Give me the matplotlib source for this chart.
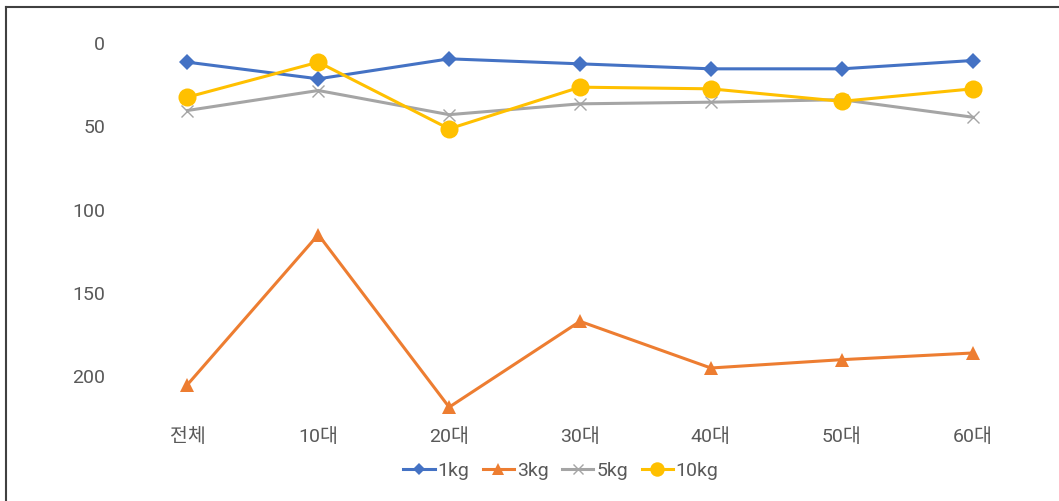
import matplotlib
matplotlib.use("Agg")

import matplotlib.pyplot as plt
from matplotlib.lines import Line2D

# ---- data ----
categories = ["전체", "10대", "20대", "30대", "40대", "50대", "60대"]
series_names = ["1kg", "3kg", "5kg", "10kg"]
kg1 = [11.5, 21.5, 9.5, 12.5, 15.5, 15.5, 10.5]
kg3 = [205, 115, 218.5, 167, 195, 190, 186]
kg5 = [40.5, 28.5, 43, 36.5, 35.5, 34, 44.5]
kg10 = [32.5, 11.5, 51.5, 26.5, 27.5, 35, 27.5]
yticks = [0, 50, 100, 150, 200]

# ---- style ----
plt.rcParams["font.family"] = ["Roboto", "Noto Sans CJK KR", "DejaVu Sans"]
plt.rcParams["axes.unicode_minus"] = False
ink = "#595959"

styles = [
    dict(color="#4472C4", marker="D", ms=8, mew=0),
    dict(color="#ED7D31", marker="^", ms=10, mew=0),
    dict(color="#A5A5A5", marker="x", ms=9, mew=1.0),
    dict(color="#FFC000", marker="o", ms=13, mew=0),
]

fig = plt.figure(figsize=(10.59, 5.01), dpi=100)
ax = fig.add_axes([122 / 1059, 1 - 418 / 501, (1038 - 122) / 1059, (418 - 43) / 501])

x = list(range(len(categories)))
for name, vals, st in zip(series_names, [kg1, kg3, kg5, kg10], styles):
    ax.plot(x, vals, lw=2.2, label=name, solid_joinstyle="round", **st)

ax.set_xlim(-0.5, len(categories) - 0.5)
ax.set_ylim(225, 0)
ax.set_yticks(yticks)
ax.set_xticks(x)
ax.set_xticklabels(categories)
ax.tick_params(axis="both", length=0, labelsize=14, colors=ink)
ax.tick_params(axis="y", pad=12)
ax.tick_params(axis="x", pad=7)
for s in ax.spines.values():
    s.set_visible(False)
for t in ax.get_xticklabels() + ax.get_yticklabels():
    t.set_color(ink)

leg = fig.legend(loc="center", bbox_to_anchor=(561 / 1059, 1 - 471 / 501), ncol=4,
                 frameon=False, fontsize=14, handlelength=1.6, handletextpad=0.15,
                 columnspacing=0.7, markerscale=0.8)
for t in leg.get_texts():
    t.set_color(ink)

# outer chart border (top and left visible)
fig.add_artist(Line2D([5.5 / 1059, 5.5 / 1059], [0, 1 - 7 / 501], transform=fig.transFigure,
                      color="#404040", lw=1.5))
fig.add_artist(Line2D([5.5 / 1059, 1], [1 - 7 / 501, 1 - 7 / 501], transform=fig.transFigure,
                      color="#404040", lw=1.5))

fig.savefig("out.png", dpi=100)
